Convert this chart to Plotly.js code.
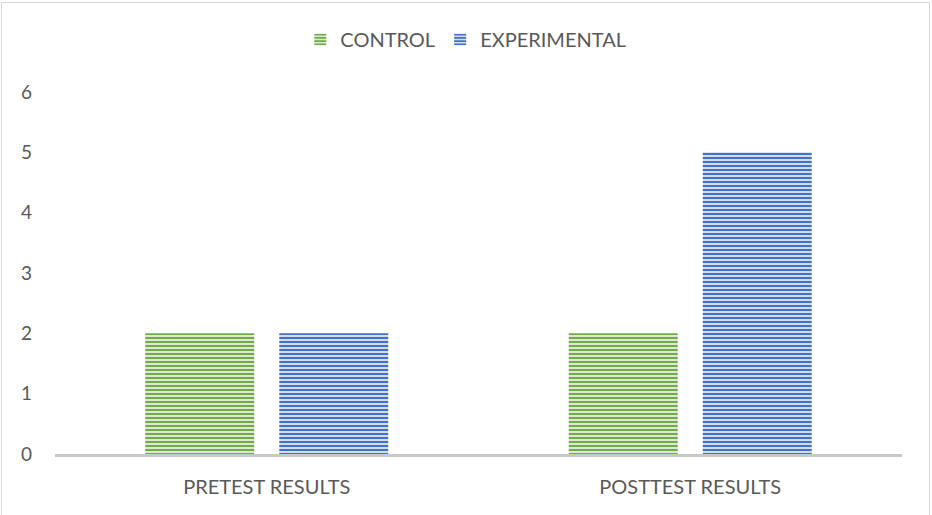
<!DOCTYPE html>
<html>
<head>
<meta charset="utf-8">
<script src="https://cdn.plot.ly/plotly-3.0.1.min.js"></script>
<style>
  html, body { margin: 0; padding: 0; background: #ffffff; }
  #chart { width: 932px; height: 515px; }
  #frame { position: absolute; left: 1px; top: 2px; width: 929px; height: 520px;
           border: 1px solid #d9d9d9; pointer-events: none; box-sizing: border-box; }
</style>
</head>
<body>
<div id="chart"></div>
<div id="frame"></div>
<script>
// Test groups and their scores
const categories = ['PRETEST RESULTS', 'POSTTEST RESULTS'];
const controlValues = [2, 2];
const experimentalValues = [2, 5];
const yTicks = [0, 1, 2, 3, 4, 5, 6];

const textColor = '#595959';
const fontFamily = 'Lato, "Open Sans", sans-serif';

function stripedBar(name, values, color, bg) {
  return {
    type: 'bar',
    name: name,
    x: categories,
    y: values,
    marker: {
      color: color,
      line: { width: 0 },
      pattern: { shape: '-', fgcolor: color, bgcolor: bg, size: 4, solidity: 0.55 }
    },
    hoverinfo: 'none'
  };
}

const data = [
  stripedBar('CONTROL', controlValues, '#70ad47', '#e8efe3'),
  stripedBar('EXPERIMENTAL', experimentalValues, '#4472c4', '#e3e8f2')
];

const layout = {
  width: 932,
  height: 515,
  margin: { l: 55, r: 30, t: 92, b: 61 },
  paper_bgcolor: '#ffffff',
  plot_bgcolor: '#ffffff',
  font: { family: fontFamily, size: 20, color: textColor },
  barmode: 'group',
  bargap: 0.367,
  bargroupgap: 0.187,
  showlegend: true,
  legend: {
    orientation: 'h', x: 0.485, xanchor: 'center', y: 1.145, yanchor: 'middle',
    font: { family: fontFamily, size: 20, color: textColor },
    itemwidth: 30
  },
  xaxis: {
    showgrid: false, zeroline: false,
    showline: true, linecolor: '#c8c8c8', linewidth: 3,
    ticks: '', ticklabelstandoff: 13,
    tickfont: { family: fontFamily, size: 20, color: textColor }
  },
  yaxis: {
    range: [0, 6], tickvals: yTicks, ticktext: yTicks.map(String),
    showgrid: false, zeroline: false, showline: false,
    ticks: '', ticklabelstandoff: 22,
    tickfont: { family: fontFamily, size: 19, color: textColor }
  }
};

Plotly.newPlot('chart', data, layout, { displayModeBar: false, staticPlot: true });
</script>
</body>
</html>
